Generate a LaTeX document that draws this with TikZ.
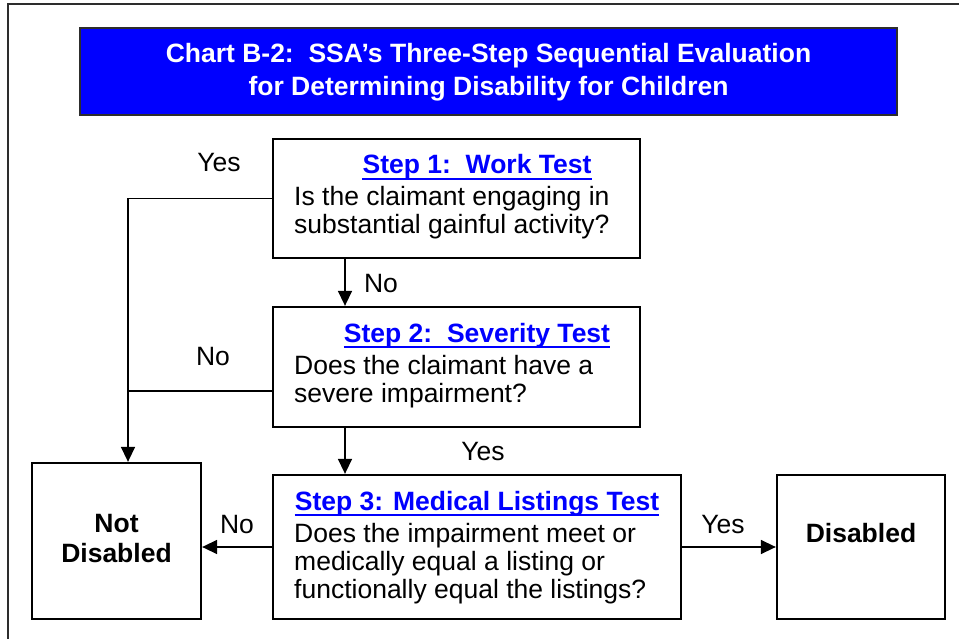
\documentclass[tikz,border=0pt]{standalone}
\usepackage{fontspec}
\setmainfont{Liberation Sans}
\usetikzlibrary{arrows.meta}
\definecolor{titleblue}{RGB}{0,0,255}
\definecolor{framegray}{RGB}{45,45,45}
\newcommand\bodyfont{\fontsize{26.5}{29}\selectfont}
\newcommand\boldfont{\fontsize{26.5}{29}\selectfont\bfseries}
\begin{document}
\begin{tikzpicture}[x=1pt,y=-1pt,
  box/.style={draw=black, line width=2.3pt, inner sep=0, fill=white},
  conn/.style={draw=black, line width=1.5pt},
  arr/.style={conn, -{Triangle[length=15pt,width=14pt]}},
  body/.style={anchor=base west, inner sep=0, font=\bodyfont},
  lab/.style={anchor=base, inner sep=0, font=\bodyfont},
  boldlab/.style={anchor=base, inner sep=0, font=\boldfont},
  steptitle/.style={anchor=base, inner sep=0, font=\boldfont, text=titleblue},
  headtext/.style={anchor=base, inner sep=0, font=\boldfont, text=white},
  uline/.style={draw=titleblue, line width=2pt}]
\useasboundingbox (0,0) rectangle (959,639);
% outer frame
\draw[framegray, line width=2pt] (8,645) -- (8,4) -- (965,4);
% title
\node[draw=framegray, line width=2.5pt, fill=titleblue, minimum width=817pt, minimum height=87pt, inner sep=0] (title) at (488.5,71.5) {};
\node[headtext] (head1) at (488.5,63) {Chart B-2:\ \ SSA’s Three-Step Sequential Evaluation};
\node[headtext] (head2) at (488.5,96) {for Determining Disability for Children};
% boxes
\node[box, minimum width=367pt, minimum height=119pt] (s1) at (456.5,198.5) {};
\node[box, minimum width=367pt, minimum height=120pt] (s2) at (456.5,367) {};
\node[box, minimum width=408pt, minimum height=144pt] (s3) at (477,547) {};
\node[box, minimum width=169pt, minimum height=156pt] (nd) at (116.5,541) {};
\node[box, minimum width=168pt, minimum height=144pt] (dis) at (861,547) {};
% step 1 text
\node[steptitle] (s1t) at (477,174) {Step 1:\ \ Work Test};
\draw[uline] ([yshift=-5pt]s1t.base west) -- ([yshift=-5pt]s1t.base east);
\node[body] (s1a) at (294,206) {Is the claimant engaging in};
\node[body] (s1b) at (294,234) {substantial gainful activity?};
% step 2 text
\node[steptitle] (s2t) at (477,342) {Step 2:\ \ Severity Test};
\draw[uline] ([yshift=-5pt]s2t.base west) -- ([yshift=-5pt]s2t.base east);
\node[body] (s2a) at (294,374) {Does the claimant have a};
\node[body] (s2b) at (294,402) {severe impairment?};
% step 3 text
\node[steptitle] (s3t) at (477,510) {Step 3: Medical Listings Test};
\draw[uline] ([yshift=-5pt]s3t.base west) -- ([yshift=-5pt]s3t.base east);
\node[body] (s3a) at (294,542) {Does the impairment meet or};
\node[body] (s3b) at (294,570) {medically equal a listing or};
\node[body] (s3c) at (294,598) {functionally equal the listings?};
% outcome texts
\node[boldlab] (nd1) at (116.5,532) {Not};
\node[boldlab] (nd2) at (116.5,562) {Disabled};
\node[boldlab] (dis1) at (861,542) {Disabled};
% connectors
\coordinate (c1) at (128,198.5);
\coordinate (c2) at (128,391);
\coordinate (cx) at (345,0);
\draw[conn] (s1.west) -- (c1);
\draw[arr] (c1) -- (c1 |- nd.north);
\draw[conn] (s2.west |- c2) -- (c2);
\draw[arr] (s1.south -| cx) -- (s2.north -| cx);
\draw[arr] (s2.south -| cx) -- (s3.north -| cx);
\draw[arr] (s3.west) -- (s3.west -| nd.east);
\draw[arr] (s3.east) -- (dis.west);
% labels
\node[lab] (yes1) at (219,172) {Yes};
\node[lab] (no1) at (381,293) {No};
\node[lab] (no2) at (213,365) {No};
\node[lab] (yes2) at (483,460) {Yes};
\node[lab] (no3) at (237,533) {No};
\node[lab] (yes3) at (723,533) {Yes};
\end{tikzpicture}
\end{document}
